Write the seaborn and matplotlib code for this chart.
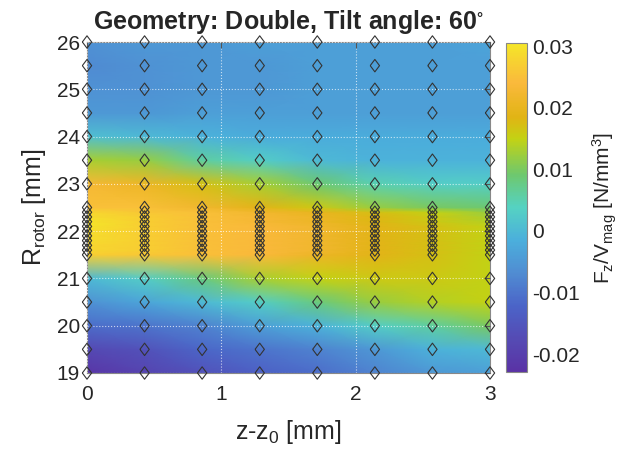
import matplotlib
matplotlib.use("Agg")
import matplotlib.pyplot as plt
import numpy as np
import seaborn as sns
from matplotlib.colors import LinearSegmentedColormap

# sample positions
z_pos = [0.0, 0.4286, 0.8571, 1.2857, 1.7143, 2.1429, 2.5714, 3.0]
r_pos = [19.0, 19.5, 20.0, 20.5, 21.0,
         21.5, 21.6, 21.7, 21.8, 21.9, 22.0, 22.1, 22.2, 22.3, 22.4, 22.5,
         23.0, 23.5, 24.0, 24.5, 25.0, 25.5, 26.0]

# Fz/Vmag [N/mm^3], one row per r_pos, one column per z_pos
force = [
    [-0.022, -0.019, -0.016, -0.013, -0.011, -0.008, -0.005, -0.004],
    [-0.018, -0.016, -0.012, -0.010, -0.008, -0.005, -0.001, 0.000],
    [-0.011, -0.010, -0.008, -0.004, -0.001, 0.003, 0.006, 0.010],
    [-0.006, -0.003, 0.000, 0.003, 0.008, 0.012, 0.014, 0.015],
    [0.000, 0.003, 0.008, 0.013, 0.015, 0.016, 0.016, 0.015],
    [0.027, 0.026, 0.025, 0.024, 0.021, 0.019, 0.017, 0.015],
    [0.028, 0.027, 0.025, 0.024, 0.022, 0.019, 0.017, 0.015],
    [0.028, 0.027, 0.025, 0.024, 0.022, 0.019, 0.017, 0.015],
    [0.029, 0.027, 0.025, 0.024, 0.022, 0.019, 0.017, 0.015],
    [0.029, 0.027, 0.025, 0.024, 0.022, 0.019, 0.017, 0.015],
    [0.029, 0.027, 0.025, 0.024, 0.022, 0.019, 0.017, 0.015],
    [0.030, 0.027, 0.025, 0.024, 0.022, 0.019, 0.017, 0.015],
    [0.030, 0.027, 0.025, 0.023, 0.021, 0.018, 0.016, 0.014],
    [0.029, 0.027, 0.025, 0.023, 0.021, 0.018, 0.016, 0.013],
    [0.028, 0.026, 0.025, 0.022, 0.020, 0.017, 0.015, 0.012],
    [0.025, 0.025, 0.022, 0.019, 0.016, 0.012, 0.010, 0.009],
    [0.023, 0.021, 0.017, 0.013, 0.009, 0.005, 0.003, 0.003],
    [0.013, 0.012, 0.006, 0.003, 0.000, -0.001, -0.001, -0.001],
    [0.001, 0.000, -0.001, -0.002, -0.002, -0.002, -0.002, -0.002],
    [-0.005, -0.005, -0.004, -0.004, -0.004, -0.004, -0.004, -0.004],
    [-0.006, -0.006, -0.005, -0.005, -0.004, -0.004, -0.004, -0.004],
    [-0.007, -0.006, -0.005, -0.005, -0.004, -0.004, -0.004, -0.004],
    [-0.006, -0.005, -0.005, -0.004, -0.004, -0.004, -0.004, -0.003],
]

cbar_ticks = [-0.02, -0.01, 0, 0.01, 0.02, 0.03]
cbar_labels = ["-0.02", "-0.01", "0", "0.01", "0.02", "0.03"]

# washed-out parula
parula_light = LinearSegmentedColormap.from_list("parula_light", [
    (0.00, "#5a32a5"),
    (0.10, "#554bb4"),
    (0.20, "#4b64c8"),
    (0.30, "#508cd2"),
    (0.40, "#4bafdc"),
    (0.50, "#55d2c3"),
    (0.60, "#6ec86e"),
    (0.71, "#c3d214"),
    (0.775, "#e1b414"),
    (0.88, "#fab93c"),
    (1.00, "#f5e628"),
])

sns.set_style("white")
plt.rcParams["font.family"] = ["Liberation Sans", "DejaVu Sans"]
plt.rcParams["mathtext.fontset"] = "custom"
plt.rcParams["mathtext.rm"] = "Liberation Sans"
plt.rcParams["mathtext.it"] = "Liberation Sans:italic"
plt.rcParams["mathtext.bf"] = "Liberation Sans:bold"
plt.rcParams["mathtext.default"] = "regular"
plt.rcParams["axes.unicode_minus"] = False

fig = plt.figure(figsize=(6.28, 4.51), dpi=100)
ax = fig.add_axes([87 / 628, 1 - 373 / 451, 403 / 628, 331 / 451])
cax = fig.add_axes([506 / 628, 1 - 372 / 451, 21 / 628, 329 / 451])

mesh = ax.pcolormesh(np.array(z_pos), np.array(r_pos), np.array(force),
                     shading="gouraud", cmap=parula_light, vmin=-0.0229, vmax=0.0305,
                     rasterized=True)

zz, rr = np.meshgrid(z_pos, r_pos)
diamond = [(-0.75, 0), (0, 1), (0.75, 0), (0, -1), (-0.75, 0)]
sns.scatterplot(x=zz.ravel(), y=rr.ravel(), marker=diamond, s=80,
                color="none", edgecolor="#333333", linewidth=0.8,
                clip_on=False, ax=ax, zorder=4)
for coll in ax.collections[1:]:
    coll.set_facecolor("none")
    coll.set_edgecolor("#333333")

ax.set_xlim(0, 3)
ax.set_ylim(19, 26)
ax.set_xticks([0, 1, 2, 3])
ax.set_yticks(range(19, 27))
ax.set_axisbelow(False)
ax.grid(True, color="white", linestyle=":", linewidth=0.8, alpha=0.7)
ax.tick_params(direction="in", length=4, labelsize=15, color="#555555",
               top=True, right=True)
ax.tick_params(axis="x", pad=9)
ax.tick_params(axis="y", pad=5)
for sp in ax.spines.values():
    sp.set_color("#888888")
    sp.set_linewidth(0.8)

ax.set_title(r"Geometry: Double, Tilt angle: 60$^{\circ}$", fontsize=18,
             fontweight="bold", pad=9)
ax.set_xlabel(r"z-z$_0$ [mm]", fontsize=18, labelpad=10)
ax.set_ylabel(r"R$_{rotor}$ [mm]", fontsize=18, labelpad=6)

cb = fig.colorbar(mesh, cax=cax)
cb.set_ticks(cbar_ticks)
cb.set_ticklabels(cbar_labels)
cb.ax.tick_params(direction="in", length=4, labelsize=15, color="#555555")
cb.outline.set_edgecolor("#888888")
cb.outline.set_linewidth(0.8)
cb.set_label(r"F$_z$/V$_{mag}$ [N/mm$^3$]", fontsize=15, labelpad=8)

fig.savefig("out.png", dpi=100)
